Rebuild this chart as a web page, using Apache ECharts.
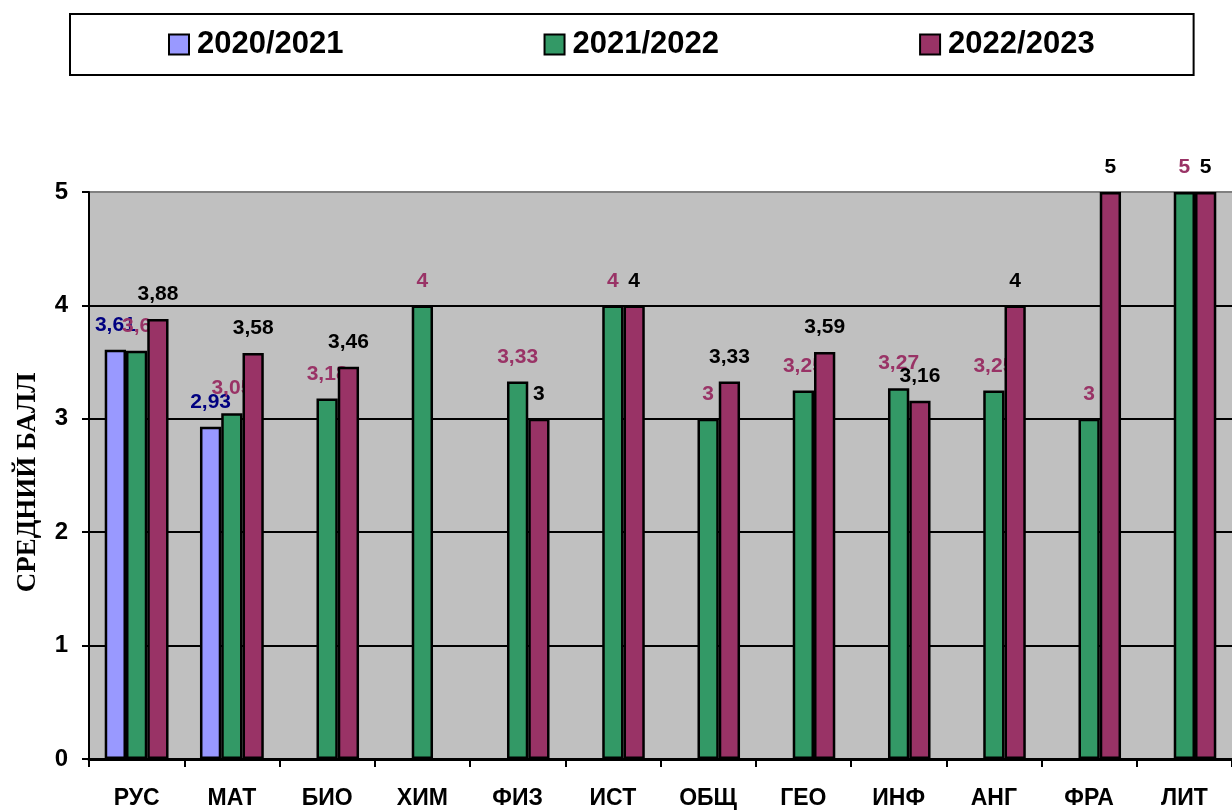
<!DOCTYPE html>
<html>
<head>
<meta charset="utf-8">
<script src="https://cdn.jsdelivr.net/npm/echarts@6/dist/echarts.min.js"></script>
<style>html,body{margin:0;padding:0;background:#fff}#c{width:1232px;height:810px}</style>
</head>
<body>
<div id="c"></div>
<script>
const categories = ['РУС', 'МАТ', 'БИО', 'ХИМ', 'ФИЗ', 'ИСТ', 'ОБЩ', 'ГЕО', 'ИНФ', 'АНГ', 'ФРА', 'ЛИТ'];
const seriesNames = ['2020/2021', '2021/2022', '2022/2023'];
const values2020 = [3.61, 2.93, null, null, null, null, null, null, null, null, null, null];
const values2021 = [3.6, 3.05, 3.18, 4, 3.33, 4, 3, 3.25, 3.27, 3.25, 3, 5];
const values2022 = [3.88, 3.58, 3.46, null, 3, 4, 3.33, 3.59, 3.16, 4, 5, 5];
const yTicks = [0, 1, 2, 3, 4, 5];

const FONT = 'Liberation Sans, Arial, sans-serif';
const barColors = ['#9999FF', '#339966', '#993366'];
const labelColors = ['#000080', '#993366', '#000000'];
const allValues = [values2020, values2021, values2022];

const chart = echarts.init(document.getElementById('c'), null, {renderer: 'canvas'});
chart.setOption({
  animation: false,
  backgroundColor: '#ffffff',
  legend: {
    left: 70, top: 14,
    padding: [15, 99, 15, 98],
    itemGap: 200,
    itemWidth: 20, itemHeight: 20,
    borderColor: '#000', borderWidth: 2,
    icon: 'rect',
    textStyle: {fontFamily: FONT, fontWeight: 'bold', fontSize: 31, color: '#000', lineHeight: 30, padding: [0, 0, 0, 3]},
    data: seriesNames
  },
  grid: {
    left: 89, top: 192, width: 1150, bottom: 50,
    show: true, backgroundColor: '#C0C0C0', borderWidth: 0,
    containLabel: false
  },
  xAxis: {
    type: 'category',
    data: categories,
    axisLine: {lineStyle: {color: '#000', width: 3}},
    axisTick: {show: true, length: 8, lineStyle: {color: '#000', width: 2}},
    axisLabel: {fontFamily: FONT, fontWeight: 'bold', fontSize: 23, color: '#000', margin: 28, interval: 0}
  },
  yAxis: {
    type: 'value',
    min: yTicks[0], max: yTicks[yTicks.length - 1], interval: 1,
    name: 'СРЕДНИЙ БАЛЛ',
    nameLocation: 'middle',
    nameGap: 47,
    nameTextStyle: {fontFamily: 'Liberation Serif, Times New Roman, serif', fontWeight: 'bold', fontSize: 27, color: '#000', padding: [0, 14, 0, 0]},
    axisLine: {show: true, lineStyle: {color: '#000', width: 2}},
    axisTick: {show: true, length: 7, lineStyle: {color: '#000', width: 2}},
    axisLabel: {fontFamily: FONT, fontWeight: 'bold', fontSize: 24, color: '#000', margin: 21},
    splitLine: {show: true, lineStyle: {color: ['#000', '#000', '#000', '#000', '#000', '#808080'], width: 2}}
  },
  series: seriesNames.map((name, i) => ({
    name: name,
    type: 'bar',
    z: 2 + i,
    data: allValues[i],
    barGap: '0%',
    barCategoryGap: '33%',
    itemStyle: {color: barColors[i], borderColor: '#000', borderWidth: 2.5},
    label: {
      show: true,
      position: 'top',
      distance: 14,
      fontFamily: FONT,
      fontWeight: 'bold',
      fontSize: 21,
      color: labelColors[i],
      formatter: p => (p.value == null ? '' : String(p.value).replace('.', ','))
    }
  }))
});
</script>
</body>
</html>
